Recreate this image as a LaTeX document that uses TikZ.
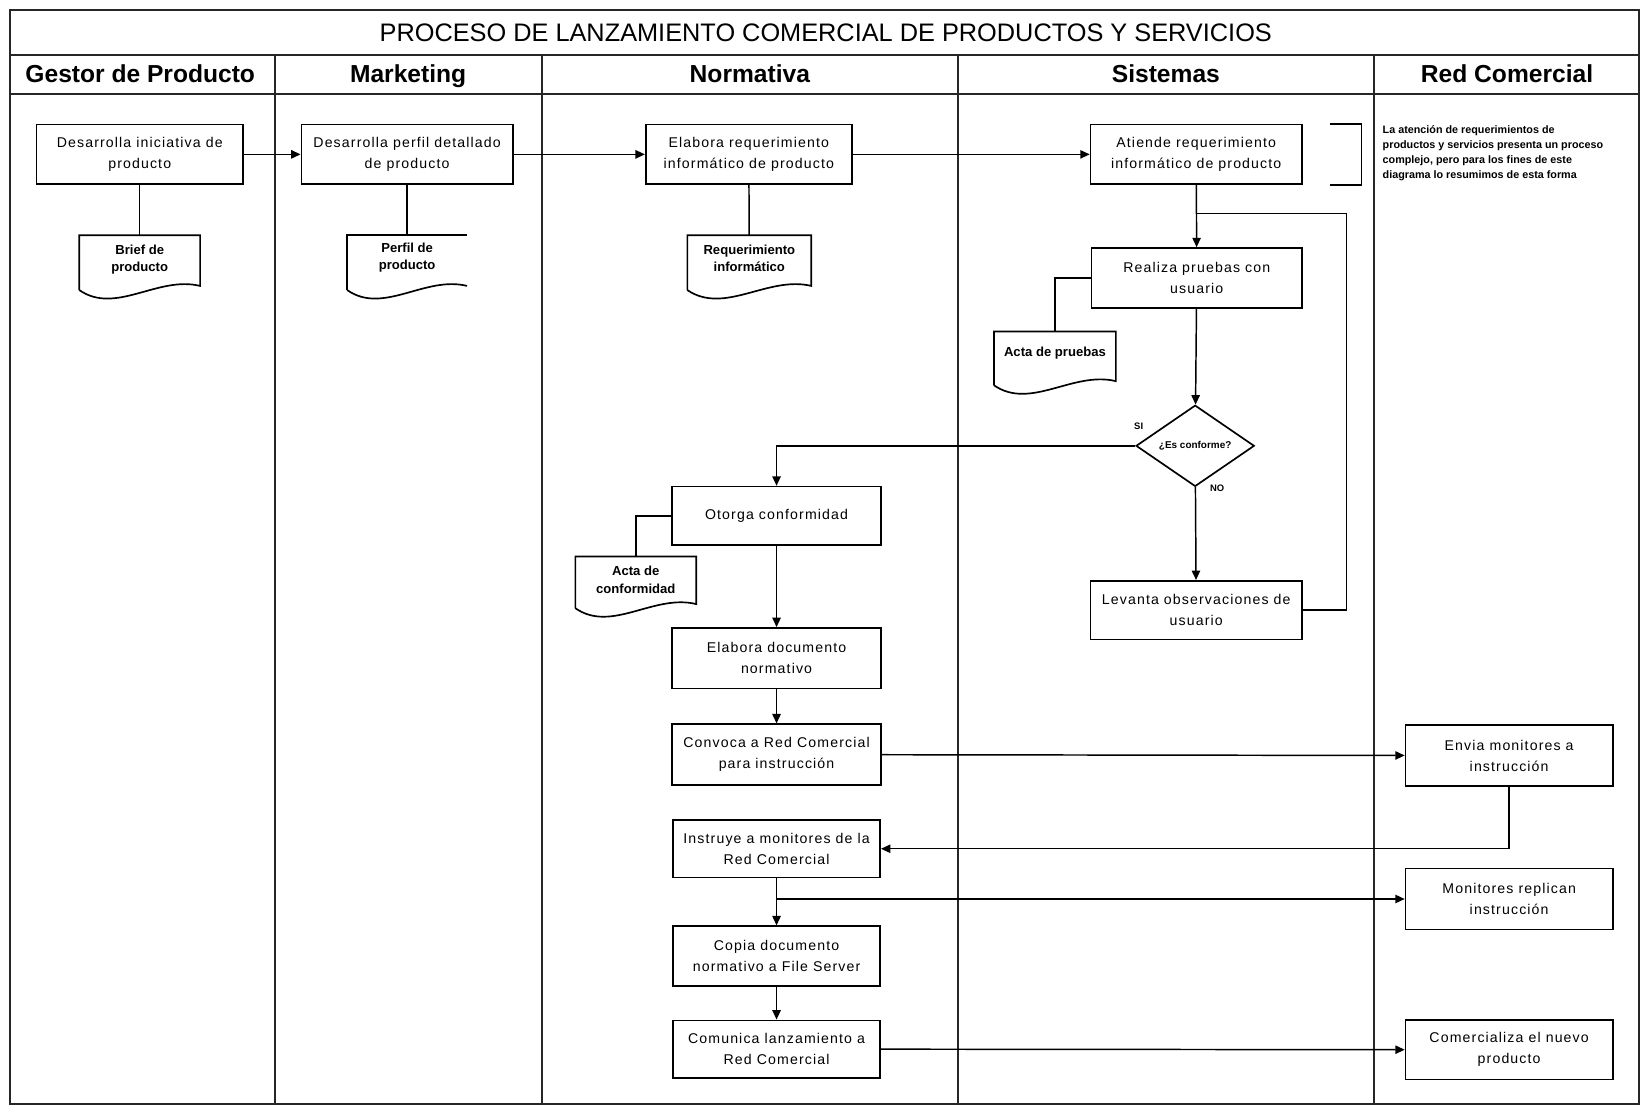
\documentclass[tikz,border=0pt]{standalone}
\usepackage{fontspec}
\setmainfont{Liberation Sans}
\newfontfamily\boxfont{Liberation Sans}[LetterSpace=8]
\usetikzlibrary{shapes.geometric,arrows.meta,calc}

% document symbol: straight top and sides, wavy bottom
\newcommand{\docwave}[1]{([yshift=4pt]#1.south east) .. controls ($(#1.south west)!0.65!(#1.south east)+(0,14pt)$) and ($(#1.south west)!0.3!(#1.south east)+(0,-24pt)$) .. (#1.south west)}
\newcommand{\docfull}[1]{\draw[shapeline] (#1.south west) -- (#1.north west) -- (#1.north east) -- \docwave{#1};}
\newcommand{\docopen}[1]{\draw[shapeline] (#1.south west) -- (#1.north west) -- (#1.north east); \draw[shapeline] \docwave{#1};}

\begin{document}
\begin{tikzpicture}[x=1pt,y=-1pt,
  frameline/.style={line width=1.9pt, draw=black!85},
  shapeline/.style={line width=1.6pt, draw=black},
  procbox/.style={shapeline, minimum width=200pt, minimum height=57pt, inner sep=2pt, align=center,
    font=\boxfont\fontsize{13.5}{20}\selectfont},
  docbox/.style={minimum width=115pt, minimum height=52pt, inner sep=0pt},
  doclabel/.style={align=center, inner sep=0pt, font=\bfseries\fontsize{12.5}{16.5}\selectfont},
  lanehead/.style={anchor=base, font=\bfseries\fontsize{23.5}{26}\selectfont},
  flow/.style={line width=1.4pt, -{Triangle[length=9pt,width=8pt]}},
  link/.style={line width=1.4pt},
  tag/.style={font=\bfseries\fontsize{9}{10}\selectfont, inner sep=0pt},
]
\useasboundingbox (0,0) rectangle (1568,1059);
\fill[white] (0,0) rectangle (1568,1059);

% ---- frame, title row, lane headers and lane dividers
\draw[frameline] (10,10) rectangle (1566,1055);
\draw[frameline] (10,53) -- (1566,53);
\draw[frameline] (10,90) -- (1566,90);
\foreach \lx in {263,518,915,1313} \draw[frameline] (\lx,53) -- (\lx,1055);

\node[anchor=base, font=\fontsize{24.2}{26}\selectfont] (title) at (789,40) {PROCESO DE LANZAMIENTO COMERCIAL DE PRODUCTOS Y SERVICIOS};
\node[lanehead] (hgestor) at (134,78.5) {Gestor de Producto};
\node[lanehead] (hmkt) at (390,78.5) {Marketing};
\node[lanehead] (hnorm) at (716.5,78.5) {Normativa};
\node[lanehead] (hsis) at (1114,78.5) {Sistemas};
\node[lanehead] (hred) at (1440,78.5) {Red Comercial};

% ---- process boxes
\node[procbox, minimum width=197pt] (ini) at (133.5,147.5) {Desarrolla iniciativa de\\producto};
\node[procbox, minimum width=202pt] (perfil) at (389,147.5) {Desarrolla perfil detallado\\de producto};
\node[procbox, minimum width=197pt] (elab) at (715.5,147.5) {Elabora requerimiento\\informático de producto};
\node[procbox, minimum width=202pt] (atiende) at (1143,147.5) {Atiende requerimiento\\informático de producto};
\node[procbox, minimum width=201pt] (realiza) at (1143.5,265.5) {Realiza pruebas con\\usuario};
\node[diamond, shapeline, minimum width=113pt, minimum height=77pt, inner sep=0pt,
  font=\bfseries\fontsize{9.5}{11}\selectfont] (dia) at (1142,426) {¿Es conforme?};
\node[procbox, minimum width=202pt, minimum height=56pt] (levanta) at (1143,583) {Levanta observaciones de\\usuario};
\node[procbox, minimum height=56pt] (otorga) at (742,493) {Otorga conformidad};
\node[procbox, minimum height=58pt] (elabdoc) at (742,629) {Elabora documento\\normativo};
\node[procbox, minimum height=58pt] (convoca) at (742,721) {Convoca a Red Comercial\\para instrucción};
\node[procbox, minimum width=198pt, minimum height=55pt] (instruye) at (742,811) {Instruye a monitores de la\\Red Comercial};
\node[procbox, minimum width=198pt] (copia) at (742,913.5) {Copia documento\\normativo a File Server};
\node[procbox, minimum width=198pt, minimum height=55pt] (comunica) at (742,1002.5) {Comunica lanzamiento a\\Red Comercial};
\node[procbox, minimum width=198pt, minimum height=58pt] (envia) at (1442,722) {Envia monitores a\\instrucción};
\node[procbox, minimum width=198pt, minimum height=58pt] (monitores) at (1442,859) {Monitores replican\\instrucción};
\node[procbox, minimum width=198pt] (comercializa) at (1442,1003) {Comercializa el nuevo\\producto};

% ---- documents
\node[docbox, label={[doclabel, yshift=3pt]center:{Brief de\\producto}}] (brief) at (133.5,251) {};
\node[docbox, minimum width=114pt, label={[doclabel, yshift=4.5pt]center:{Perfil de\\producto}}] (perfildoc) at (389,251) {};
\node[docbox, minimum width=118pt, label={[doclabel, yshift=4pt]center:{Requerimiento\\informático}}] (reqdoc) at (716,251) {};
\node[docbox, minimum width=116pt, minimum height=51pt, label={[doclabel, yshift=5.5pt]center:{Acta de pruebas}}] (actapr) at (1008,342.5) {};
\node[docbox, minimum height=49pt, label={[doclabel, yshift=2.5pt]center:{Acta de\\conformidad}}] (actaconf) at (607.5,556.5) {};
\docfull{brief}
\docopen{perfildoc}
\docfull{reqdoc}
\docfull{actapr}
\docfull{actaconf}

% ---- side note with its bracket
\draw[shapeline] ($(atiende.north east)+(26,0)$) -- ($(atiende.north east)+(56,0)$) -- ($(atiende.south east)+(56,0)$) -- ($(atiende.south east)+(26,0)$);
\node[anchor=north west, inner sep=0pt, align=left, font=\bfseries\fontsize{10.3}{14.5}\selectfont] (nota) at (1321,119.5)
  {La atención de requerimientos de\\productos y servicios presenta un proceso\\complejo, pero para los fines de este\\diagrama lo resumimos de esta forma};

% ---- decision labels
\node[tag] (si) at (1088,407) {SI};
\node[tag] (no) at (1163,467) {NO};

% ---- connectors
\draw[flow] (ini) -- (perfil);
\draw[flow] (perfil) -- (elab);
\draw[flow] (elab) -- (atiende);
\draw[link] (ini) -- (brief);
\draw[link] (perfil) -- (perfildoc);
\draw[link] (elab) -- (reqdoc);

\draw[flow] (atiende) -- (realiza);
\draw[link] (realiza.west) -| (actapr.north);
\draw[flow] (realiza) -- (dia);
\draw[flow] (dia) -- (levanta);
\coordinate (join) at ($(atiende.south)+(0,27)$);
\coordinate (loopcorner) at ($(levanta.east)+(42,0)$);
\draw[link] (levanta.east) -- (loopcorner) -- (loopcorner |- join) -- (join);

\draw[flow] (dia.west) -| (otorga.north);
\draw[link] (otorga.west) -| (actaconf.north);
\draw[flow] (otorga) -- (elabdoc);
\draw[flow] (elabdoc) -- (convoca);
\draw[flow] (convoca) -- (envia);
\draw[flow] (envia.south) |- (instruye.east);
\draw[flow] (instruye) -- (copia);
\draw[flow] (monitores.west -| instruye.south) -- (monitores.west);
\draw[flow] (copia) -- (comunica);
\draw[flow] (comunica.east) -- (comercializa.west);
\end{tikzpicture}
\end{document}
